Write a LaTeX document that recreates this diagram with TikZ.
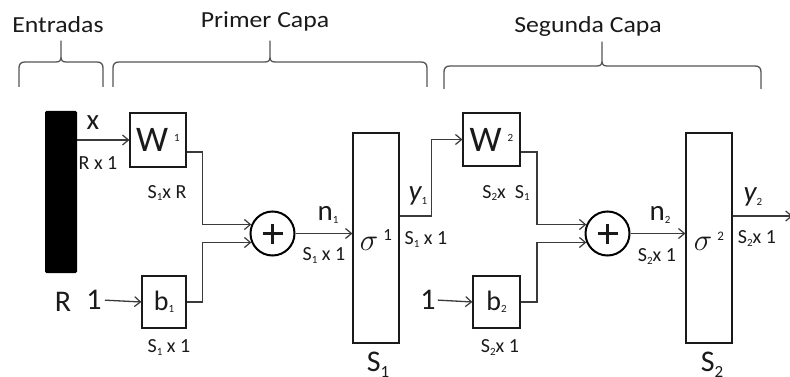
\documentclass[tikz,border=0pt]{standalone}
\usepackage{fix-cm}
\usepackage{fontspec}
\setmainfont{Carlito}
\newfontfamily\widefont[FakeStretch=1.12]{Carlito}
\usetikzlibrary{arrows.meta}
\definecolor{ink}{HTML}{1A1A1A}
\definecolor{wire}{HTML}{3A3A3A}
\definecolor{brcol}{HTML}{555555}
\newcommand\mysub[3][-3pt]{\raisebox{#1}{\fontsize{#2}{#2}\selectfont #3}}
\newcommand\mysup[3][8pt]{\raisebox{#1}{\fontsize{#2}{#2}\selectfont #3}}
\newcommand\mybrace[6]{%
 \draw[brc] (#1,#6) -- (#1,#4+6) .. controls (#1,#4+2) and (#1+2,#4) .. (#1+6,#4)
   -- (#2-5,#4) .. controls (#2-1.5,#4) and (#2,#4-1.5) .. (#2,#4-5) -- (#2,#5)
   -- (#2,#4-5) .. controls (#2,#4-1.5) and (#2+1.5,#4) .. (#2+5,#4)
   -- (#3-6,#4) .. controls (#3-2,#4) and (#3,#4+2) .. (#3,#4+6) -- (#3,#6);}
\tikzset{
 box/.style={draw=ink, line width=1.2pt, fill=white, inner sep=0pt, text=ink},
 conn/.style={draw=wire, line width=1.3pt},
 arr/.style={conn, -{Straight Barb[length=6pt,width=10pt,line width=1.2pt]}},
 lbl/.style={inner sep=0pt, text=ink},
 dim/.style={lbl, font=\fontsize{20}{20}\selectfont},
 ttl/.style={lbl, font=\widefont\fontsize{23}{23}\selectfont, anchor=base},
 brc/.style={draw=brcol, line width=1.3pt, line join=round},
 sumc/.style={circle, draw=black, line width=2pt, minimum size=44pt, inner sep=0pt, fill=white},
}
\begin{document}
\begin{tikzpicture}[x=1pt, y=-1pt]
\useasboundingbox (0,0) rectangle (790,377);
\fill[white] (0,0) rectangle (790,377);

% titles and braces
\node[ttl] (tin) at (58,33) {Entradas};
\node[ttl] (tl1) at (265,28) {Primer Capa};
\node[ttl] (tl2) at (588,33) {Segunda Capa};
\mybrace{19}{61}{103}{62}{41}{87}
\mybrace{113}{270}{427}{62}{41}{87}
\mybrace{444}{602}{761}{66}{42}{89}

% input bar
\node[fill=black, rounded corners=1.5pt, minimum width=32pt, minimum height=162pt, inner sep=0pt] (bar) at (61,192) {};
\node[lbl, font=\fontsize{29}{29}\selectfont] (xl) at (93,123) {x};
\node[dim] (rx1) at (98,163) {R x 1};
\node[lbl, font=\fontsize{30}{30}\selectfont] (rl) at (63,302) {R};

% layer 1
\node[box, minimum width=56pt, minimum height=54pt, font=\fontsize{36}{36}\selectfont] (w1) at (158,140) {W\,\mysup[10pt]{11}{1}};
\node[dim] (w1d) at (167,193) {S\mysub[-2pt]{11}{1}x R};
\node[lbl, font=\fontsize{30}{30}\selectfont] (one1) at (94,300) {1};
\node[box, minimum width=44pt, minimum height=52pt, font=\fontsize{28}{28}\selectfont] (b1) at (164,302) {b\mysub[-2pt]{11}{1}};
\node[dim] (b1d) at (169,348) {S\mysub{11}{1} x 1};
\node[sumc] (c1) at (272.5,233.5) {};
\draw[line width=2.2pt, ink] ([xshift=-10pt]c1.center) -- ([xshift=10pt]c1.center)
  ([yshift=-10pt]c1.center) -- ([yshift=10pt]c1.center);
\node[lbl, font=\fontsize{29}{29}\selectfont] (n1l) at (328,215) {n\mysub[-3pt]{11}{1}};
\node[dim] (n1d) at (324,256) {S\mysub{11}{1} x 1};
\node[box, minimum width=46pt, minimum height=210pt] (s1) at (376,238) {};
\node[lbl, font=\fontsize{31}{31}\selectfont] (s1l) at (376,240) {$\sigma$\,\mysup[10pt]{17}{1}};
\node[lbl, font=\fontsize{30}{30}\selectfont] (s1n) at (378,365) {S\mysub[-6pt]{17}{1}};
\node[lbl, font=\fontsize{29}{29}\selectfont\itshape] (y1l) at (418,196) {y\mysub[-4pt]{11}{\upshape 1}};
\node[dim] (y1d) at (426,240) {S\mysub{11}{1} x 1};

% layer 2
\node[box, minimum width=57pt, minimum height=53pt, font=\fontsize{36}{36}\selectfont] (w2) at (491.5,139.5) {W\,\mysup[10pt]{11}{2}};
\node[dim] (w2d) at (506,193) {S\mysub[-2pt]{11}{2}x\ \ S\mysub[-2pt]{11}{1}};
\node[lbl, font=\fontsize{30}{30}\selectfont] (one2) at (428,300) {1};
\node[box, minimum width=47pt, minimum height=52pt, font=\fontsize{28}{28}\selectfont] (b2) at (496.5,302) {b\mysub[-2pt]{11}{2}};
\node[dim] (b2d) at (500,348) {S\mysub{11}{2}x 1};
\node[sumc] (c2) at (607.5,233.5) {};
\draw[line width=2.2pt, ink] ([xshift=-10pt]c2.center) -- ([xshift=10pt]c2.center)
  ([yshift=-10pt]c2.center) -- ([yshift=10pt]c2.center);
\node[lbl, font=\fontsize{29}{29}\selectfont] (n2l) at (660,215) {n\mysub[-3pt]{11}{2}};
\node[dim] (n2d) at (657,257) {S\mysub{11}{2}x 1};
\node[box, minimum width=46pt, minimum height=210pt] (s2) at (709,238) {};
\node[lbl, font=\fontsize{31}{31}\selectfont] (s2l) at (709,241) {$\sigma$\,\mysup[10pt]{13}{2}};
\node[lbl, font=\fontsize{30}{30}\selectfont] (s2n) at (712,365) {S\mysub[-6pt]{17}{2}};
\node[lbl, font=\fontsize{29}{29}\selectfont\itshape] (y2l) at (753,197) {y\mysub[-4pt]{11}{\upshape 2}};
\node[dim] (y2d) at (757,239) {S\mysub{11}{2}x 1};

% connectors
\draw[arr] (bar.east |- w1.west) -- (w1.west);
\draw[arr, shorten <=3pt] (one1.east) -- (b1.west);
\draw[arr] ([yshift=-12pt]w1.east) -- ++(16,0) |- (c1.157);
\draw[arr] (b1.east) -- ++(16,0) |- (c1.203);
\draw[arr] (c1.east) -- (s1.west |- c1.east);
\draw[arr] ([yshift=22pt]s1.east) -- ++(32,0) |- (w2.west);
\draw[arr, shorten <=2pt] (one2.east) -- (b2.west);
\draw[arr] ([yshift=-12.5pt]w2.east) -- ++(16.5,0) |- (c2.157);
\draw[arr] (b2.east) -- ++(16.5,0) |- (c2.203);
\draw[arr] (c2.east) -- (s2.west |- c2.east);
\draw[arr] ([yshift=22pt]s2.east) -- ++(60,0);
\end{tikzpicture}
\end{document}
